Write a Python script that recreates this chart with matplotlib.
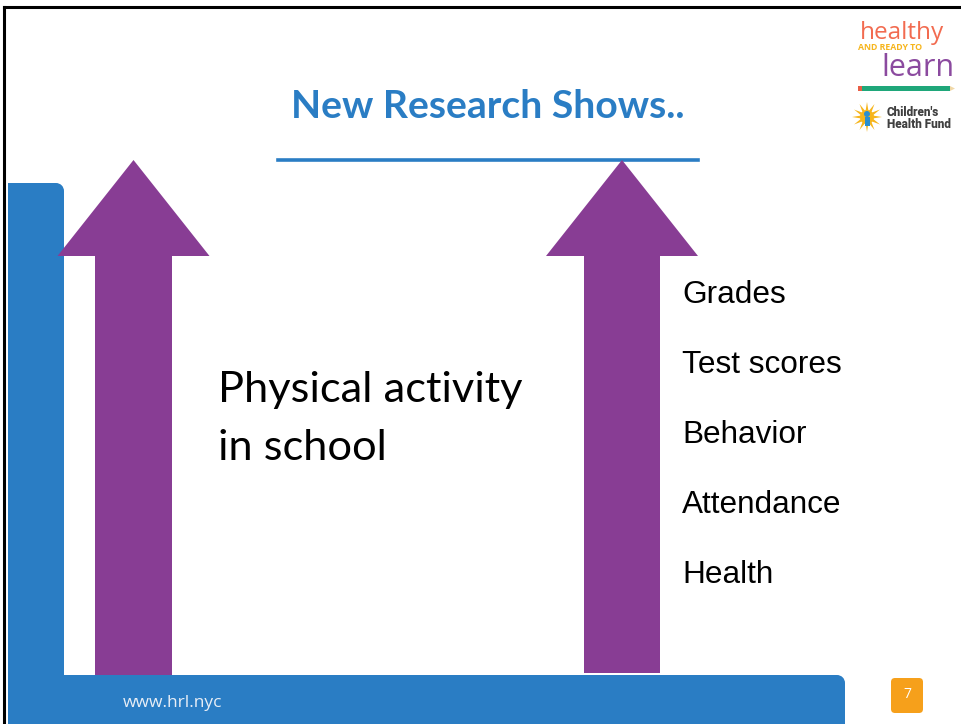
import matplotlib
matplotlib.use("Agg")
import matplotlib.pyplot as plt
from matplotlib.patches import FancyBboxPatch, Polygon, Rectangle, Circle
import numpy as np

title = "New Research Shows.."
left_label = ["Physical activity", "in school"]
outcomes = ["Grades", "Test scores", "Behavior", "Attendance", "Health"]
footer = "www.hrl.nyc"
page = "7"

BLUE = "#2a7dc4"
PURPLE = "#883d94"
ORANGE = "#f6a01b"

fig = plt.figure(figsize=(9.61, 7.24), dpi=100)
ax = fig.add_axes([0, 0, 1, 1])
ax.set_xlim(0, 961)
ax.set_ylim(724, 0)
ax.axis("off")

# frame
ax.plot([4, 4], [7, 724], color="black", lw=2.2)
ax.plot([4, 961], [7, 7], color="black", lw=2.2)

# blue left bar and bottom bar (rounded top-right corner)
def rbox(x0, y0, x1, y1, r, color, z=1):
    ax.add_patch(Rectangle((x0, y0 + r), x1 - x0, y1 - y0 - r, color=color, lw=0, zorder=z))
    ax.add_patch(Rectangle((x0, y0), x1 - x0 - r, y1 - y0, color=color, lw=0, zorder=z))
    ax.add_patch(Circle((x1 - r, y0 + r), r, color=color, lw=0, zorder=z))

rbox(8, 183, 64, 724, 8, BLUE)
rbox(8, 675, 845, 724, 8, BLUE)

# arrows
def arrow(cx, shaft_half, head_half, tip, head_base, bottom):
    ax.add_patch(Rectangle((cx - shaft_half, head_base - 1), 2 * shaft_half, bottom - head_base + 1,
                           color=PURPLE, lw=0, zorder=2))
    ax.add_patch(Polygon([(cx - head_half, head_base), (cx + head_half, head_base), (cx, tip)],
                         closed=True, color=PURPLE, lw=0, zorder=2))

arrow(133.5, 38.5, 76, 160, 256, 675)
arrow(622, 38, 76, 160, 256, 673)

# title and rule
ax.text(488, 106, title, color=BLUE, fontsize=28.2, fontweight="bold", family="Lato",
        ha="center", va="center")
ax.plot([278, 698], [160, 160], color=BLUE, lw=2.6, zorder=1)

# left label
for i, s in enumerate(left_label):
    ax.text(218, 402 + i * 58, s, fontsize=31.2, family="Lato", color="black",
            ha="left", va="baseline")

# outcomes
for i, s in enumerate(outcomes):
    ax.text(682, 303 + i * 70, s, fontsize=22.7, family="Liberation Sans", color="black",
            ha="left", va="baseline")

# footer
ax.text(123, 703, footer, fontsize=12.5, family="Open Sans", color="#e8eef6", ha="left", va="center")
ax.add_patch(FancyBboxPatch((891, 678), 32, 35, boxstyle="round,pad=0,rounding_size=4",
                            color=ORANGE, lw=0))
ax.text(907, 695, page, fontsize=10, color="white", family="Open Sans", ha="center", va="center")

# logo
ax.text(944, 33, "healthy", fontsize=17.5, color="#f26b50", family="Open Sans", ha="right", va="center")
ax.text(858, 48, "AND READY TO", fontsize=6.3, color="#f6b51c", family="Open Sans",
        fontweight="bold", ha="left", va="center")
ax.text(955, 68, "learn", fontsize=22, color="#8b4a9f", family="Open Sans", ha="right", va="center")
ax.add_patch(Rectangle((858, 86), 4, 5, color="#e85d45", lw=0))
ax.add_patch(Rectangle((862, 86), 88, 5, color="#1fa77a", lw=0))
ax.add_patch(Polygon([(950, 86), (950, 91), (955, 88.5)], closed=True, color="#f0d8a8", lw=0))
# sun
cx, cy = 867, 117
for a in np.linspace(0, 2 * np.pi, 12, endpoint=False):
    ax.add_patch(Polygon([(cx + 6 * np.cos(a - 0.25), cy + 6 * np.sin(a - 0.25)),
                          (cx + 6 * np.cos(a + 0.25), cy + 6 * np.sin(a + 0.25)),
                          (cx + 15 * np.cos(a), cy + 15 * np.sin(a))],
                         closed=True, color="#f6b51c", lw=0))
ax.add_patch(Circle((cx, cy), 7, color="#f6b51c", lw=0))
ax.add_patch(Circle((cx, cy - 3), 3, color="#2a8fd0", lw=0))
ax.add_patch(Rectangle((cx - 2.5, cy), 5, 9, color="#2a8fd0", lw=0))
ax.text(887, 118, "Children's\nHealth Fund", fontsize=8.5, color="#404040", family="Roboto",
        fontweight="heavy", ha="left", va="center", linespacing=0.9)

fig.savefig("out.png", dpi=100, facecolor="white")
